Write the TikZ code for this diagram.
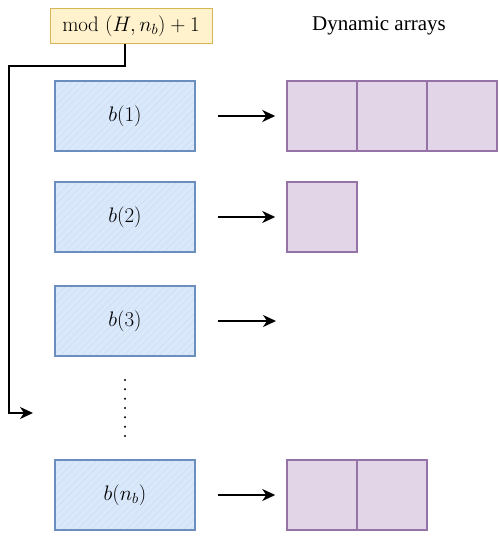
\RequirePackage{fix-cm}
\documentclass[tikz,border=0pt]{standalone}
\usepackage{fontspec}
\newfontfamily\titlefont{Liberation Serif}
\usetikzlibrary{arrows.meta,patterns.meta}
\definecolor{bucketfill}{HTML}{DAE8FC}
\definecolor{bucketline}{HTML}{6C8EBF}
\definecolor{buckethatch}{HTML}{CFDDF2}
\definecolor{hashfill}{HTML}{FFF2CC}
\definecolor{hashline}{HTML}{D6B656}
\definecolor{cellfill}{HTML}{E1D5E7}
\definecolor{cellline}{HTML}{9673A6}
\begin{document}
\begin{tikzpicture}[
	                  x = 1pt,
	                  y = -1pt,
	      every node/.style = {inner sep=0pt, font=\fontsize{21}{25}\selectfont},
	          bucket/.style = {fill=bucketfill, minimum width=140pt, minimum height=70pt,
	                           postaction={pattern={Lines[angle=45,distance=5pt,line width=0.5pt]},
	                                       pattern color=buckethatch},
	                           postaction={draw=bucketline, line width=1.5pt}},
	            cell/.style = {draw=cellline, fill=cellfill, line width=1.5pt, minimum size=70pt},
	            hash/.style = {draw=hashline, fill=hashfill, line width=1pt,
	                           minimum width=162pt, minimum height=35pt},
	         caption/.style = {font=\titlefont\fontsize{21}{25}\selectfont},
	           point/.style = {draw, line width=2pt, -{Stealth[length=13pt,width=12pt,inset=4pt]},
	                           shorten <=23pt, shorten >=11pt}
	                     ]
	\useasboundingbox (0,0) rectangle (499,536);
	\node[hash] (hash) at (131,26) {$\mathrm{mod}\ (H, n_b)+1$};
	\node[caption] (title) at (379,26) {Dynamic arrays};
	% buckets
	\node[bucket] (b1) at (125,116) {$b(1)$};
	\node[bucket] (b2) at (125,217) {$b(2)$};
	\node[bucket] (b3) at (125,321) {$b(3)$};
	\node[bucket] (bn) at (125,495) {$b(n_b)$};
	% arrays
	\node[cell] (a11) at (322,116) {};
	\node[cell] (a12) at (392,116) {};
	\node[cell] (a13) at (462,116) {};
	\node[cell] (a21) at (322,217) {};
	\coordinate (a31) at (287,321);
	\node[cell] (an1) at (322,495) {};
	\node[cell] (an2) at (392,495) {};
	\draw[point] (b1) -- (a11);
	\draw[point] (b2) -- (a21);
	\draw[point] (b3.east) -- (a31);
	\draw[point] (bn) -- (an1);
	% dots
	\coordinate (dtop) at (125,380);
	\coordinate (dbot) at (125,437);
	\draw[line width=2.2pt, line cap=round, dash pattern=on 0pt off 9.33pt] (dtop) -- (dbot);
	% hash connector
	\coordinate (turn) at (9,66);
	\coordinate (entry) at (33,413);
	\draw[line width=2pt, -{Stealth[length=13pt,width=12pt,inset=4pt]}]
		([xshift=-6pt]hash.south) |- (turn) |- (entry);
\end{tikzpicture}
\end{document}
